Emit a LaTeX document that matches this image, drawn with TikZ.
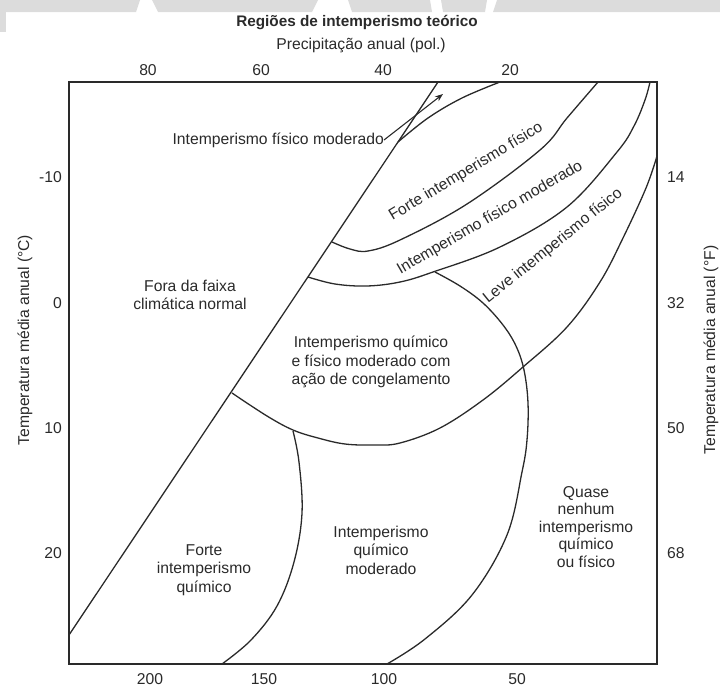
\documentclass[tikz,border=0pt]{standalone}
\usepackage{fontspec}
\setmainfont{Liberation Sans}
\usetikzlibrary{arrows.meta}
\definecolor{ink}{HTML}{2A2A2A}
\definecolor{wm}{HTML}{DCDCDC}
\begin{document}
\begin{tikzpicture}[x=1pt,y=-1pt,
  lbl/.style={font=\fontsize{15.7}{18.5}\selectfont, text=ink, inner sep=0pt, align=center},
  curve/.style={draw=ink, line width=1.3pt},
  frame/.style={draw=ink, line width=1.6pt}]
\useasboundingbox (0,0) rectangle (720,688);
% watermark band
\fill[wm] (0,0) -- (140,0) -- (136,12) -- (0,12) -- cycle;
\fill[wm] (0,0) rectangle (6,32);
\fill[wm] (152,0) -- (318,0) -- (312,12) -- (158,12) -- cycle;
\fill[wm] (348,0) -- (430,0) -- (432,12) -- (352,12) -- cycle;
\fill[wm] (441,0) -- (487,0) -- (485,12) -- (443,12) -- cycle;
\fill[wm] (497,0) -- (720,0) -- (720,12) -- (493,12) -- cycle;
% titles
\node[lbl, font=\bfseries\fontsize{15.3}{18}\selectfont] (title) at (357,23) {Regiões de intemperismo teórico};
\node[lbl] (sub) at (361,45) {Precipitação anual (pol.)};
% top ticks
\node[lbl] (t80) at (148,70) {80};
\node[lbl] (t60) at (261,70) {60};
\node[lbl] (t40) at (383,70) {40};
\node[lbl] (t20) at (510,70) {20};
% bottom ticks
\node[lbl] (b200) at (150,679) {200};
\node[lbl] (b150) at (264,679) {150};
\node[lbl] (b100) at (384,679) {100};
\node[lbl] (b50) at (517,679) {50};
% left ticks
\node[lbl, anchor=east] (lm10) at (62,177) {-10};
\node[lbl, anchor=east] (l0) at (62,303) {0};
\node[lbl, anchor=east] (l10) at (62,428) {10};
\node[lbl, anchor=east] (l20) at (62,553) {20};
% right ticks
\node[lbl, anchor=west] (r14) at (667,177) {14};
\node[lbl, anchor=west] (r32) at (667,303) {32};
\node[lbl, anchor=west] (r50) at (667,428) {50};
\node[lbl, anchor=west] (r68) at (667,553) {68};
% axis labels
\node[lbl, rotate=90] (ylab) at (25,340) {Temperatura média anual (°C)};
\node[lbl, rotate=90] (ylab2) at (711,350) {Temperatura média anual (°F)};
% frame
\draw[frame] (69,82) rectangle (657,664);
% diagonal
\draw[curve] (69,635) -- (438,82);
% B: upper boundary of strong physical
\draw[curve] plot[smooth, tension=0.6] coordinates {(398,142) (428,118) (462,98) (500,82)};
% C
\draw[curve] plot[smooth, tension=0.6] coordinates {(332,242) (350,249) (368,251) (400,240) (467,204) (540,150) (567,118) (598,82)};
% D
\draw[curve] plot[smooth, tension=0.6] coordinates {(308,277) (335,284) (367,286) (400,282) (433,272) (500,247) (567,207) (617,152) (634,126) (645,100) (650,82)};
% E
\draw[curve] plot[smooth, tension=0.6] coordinates {(657,156) (646,188) (623,238) (600,282) (567,327) (523,367) (483,400) (440,428) (400,443) (375,445) (345,444) (318,438) (293,430) (267,416) (232,393)};
% F
\draw[curve] plot[smooth, tension=0.6] coordinates {(435,272) (460,286) (483,303) (503,325) (516,346) (524,370) (528,403) (527,440) (522,472) (507,535) (472,595) (425,639) (387,664)};
% G
\draw[curve] plot[smooth, tension=0.6] coordinates {(293,431) (299,462) (302,513) (294,562) (277,606) (251,640) (222,664)};
% labels
\node[lbl, anchor=east] (ifm) at (384,140) {Intemperismo físico moderado};
\coordinate (arrowtip) at (443,94);
\draw[draw=ink, line width=1.1pt, -{Stealth[length=8pt,width=6pt]}] (ifm.east) -- (arrowtip);
\node[lbl, rotate=31] (fif) at (466,172) {Forte intemperismo físico};
\node[lbl, rotate=30] (ifm2) at (490,218) {Intemperismo físico moderado};
\node[lbl, rotate=39] (lif) at (553,246) {Leve intemperismo físico};
\node[lbl] (fora) at (190,295) {Fora da faixa\\climática normal};
\node[lbl] (iqf) at (371,362) {Intemperismo químico\\e físico moderado com\\ação de congelamento};
\node[lbl] (fiq) at (204,570) {Forte\\intemperismo\\químico};
\node[lbl] (iqm) at (381,550) {Intemperismo\\químico\\moderado};
\node[lbl, font=\fontsize{15.7}{17.5}\selectfont] (quase) at (586,527) {Quase\\nenhum\\intemperismo\\químico\\ou físico};
\end{tikzpicture}
\end{document}
